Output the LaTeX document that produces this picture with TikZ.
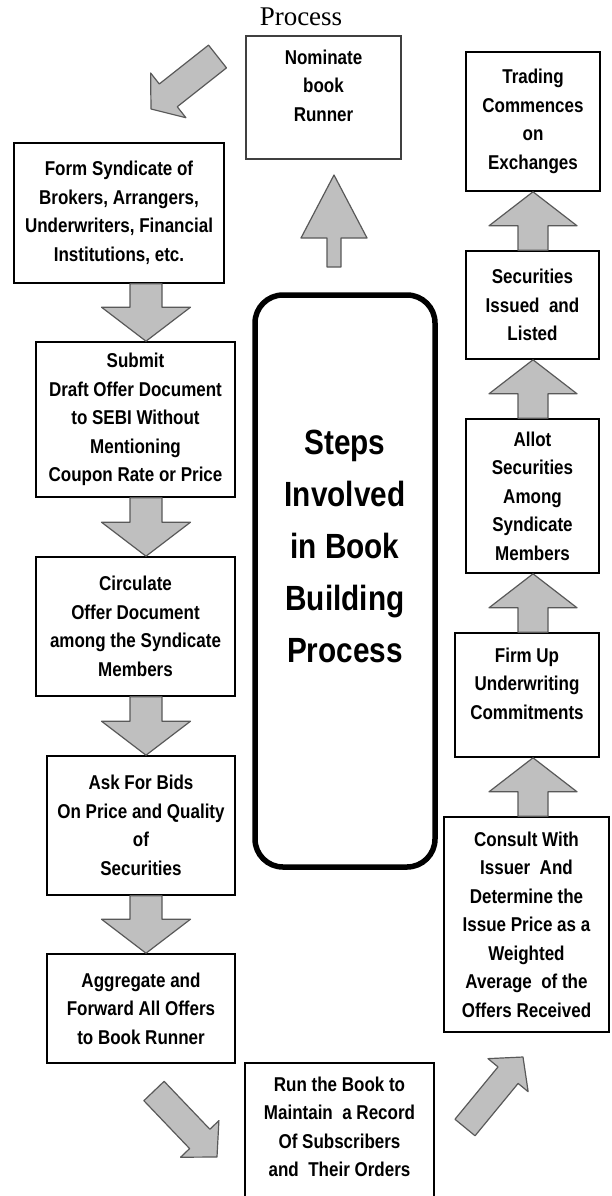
\documentclass[tikz,border=0pt]{standalone}
\usepackage{fontspec}
\usepackage{tikz}
\usetikzlibrary{calc}
\newfontfamily\boxfont{Liberation Sans}[FakeStretch=0.85]
\newfontfamily\titlefont{Liberation Serif}

\tikzset{
  stepbox/.style={draw=black, line width=1.6pt, fill=white, align=center, inner sep=2pt,
    font=\boxfont\bfseries\fontsize{20}{28.5}\selectfont},
  fatarrow/.style={draw=black!65, line width=1.2pt, fill=black!25, line join=round}
}

% block arrow: tail, tip, half shaft width, half head width, head length
\newcommand\fatarrow[5]{%
  \coordinate (hb) at ($(#2)!#5!(#1)$);
  \filldraw[fatarrow] ($(#1)!#3!90:(#2)$) -- ($(hb)!#3!90:(#2)$) -- ($(hb)!#4!90:(#2)$)
    -- (#2) -- ($(hb)!#4!-90:(#2)$) -- ($(hb)!#3!-90:(#2)$) -- ($(#1)!#3!-90:(#2)$) -- cycle;
}

\begin{document}
\begin{tikzpicture}[x=1pt,y=-1pt]
  \useasboundingbox (0,0) rectangle (611,1196);
  \clip (0,0) rectangle (611,1196);

  \node[font=\titlefont\fontsize{27}{30}\selectfont] (title) at (301,17) {Process};

  % left column
  \node[stepbox, minimum width=210, minimum height=140] (form) at (119,213)
    {Form Syndicate of\\Brokers, Arrangers,\\Underwriters, Financial\\Institutions, etc.};
  \node[stepbox, minimum width=199, minimum height=155] (submit) at (135.5,419.5)
    {Submit\\Draft Offer Document\\to SEBI Without\\Mentioning\\Coupon Rate or Price};
  \node[stepbox, minimum width=199, minimum height=139] (circulate) at (135.5,626.5)
    {Circulate\\Offer Document\\among the Syndicate\\Members};
  \node[stepbox, minimum width=188, minimum height=139] (askbids) at (141,825.5)
    {Ask For Bids\\On Price and Quality\\of\\Securities};
  \node[stepbox, minimum width=188, minimum height=109] (aggregate) at (141,1008.5)
    {Aggregate and\\Forward All Offers\\to Book Runner};

  % middle
  \node[stepbox, draw=black!75, line width=1.2pt, minimum width=155, minimum height=123,
    text depth=24pt] (nominate) at (323.5,97.5) {Nominate\\book\\Runner};
  \node[stepbox, line width=5.5pt, rounded corners=28pt, minimum width=180, minimum height=572,
    text depth=70pt, font=\boxfont\bfseries\fontsize{35}{52}\selectfont]
    (steps) at (345,581) {Steps\\Involved\\in Book\\Building\\Process};
  \node[stepbox, anchor=north, minimum width=189, minimum height=150, text depth=22pt]
    (run) at (339.5,1062)
    {Run the Book to\\Maintain\ \ a Record\\Of Subscribers\\and\ \ Their Orders};

  % right column
  \node[stepbox, minimum width=134, minimum height=139] (trading) at (533,121.5)
    {Trading\\Commences\\on\\Exchanges};
  \node[stepbox, minimum width=133, minimum height=108] (securities) at (532.5,305)
    {Securities\\Issued\ \ and\\Listed};
  \node[stepbox, minimum width=133, minimum height=154] (allot) at (532.5,496)
    {Allot\\Securities\\Among\\Syndicate\\Members};
  \node[stepbox, minimum width=144, minimum height=124, text depth=23pt] (firm) at (527,695)
    {Firm Up\\Underwriting\\Commitments};
  \node[stepbox, minimum width=165, minimum height=215] (consult) at (526.5,924.5)
    {Consult With\\Issuer\ \ And\\Determine the\\Issue Price as a\\Weighted\\Average\ \ of the\\Offers Received};

  % arrows
  \coordinate (ax) at (146,0);
  \coordinate (bx) at (533,0);
  \foreach \a/\b in {form/submit, submit/circulate, circulate/askbids, askbids/aggregate}
    {\fatarrow{\a.south -| ax}{\b.north -| ax}{16pt}{44.5pt}{34pt}}
  \foreach \a/\b in {consult/firm, firm/allot, allot/securities, securities/trading}
    {\fatarrow{\a.north -| bx}{\b.south -| bx}{15pt}{44pt}{34pt}}

  \coordinate (uptail) at (334,267);
  \coordinate (uptip) at (334,175);
  \fatarrow{uptail}{uptip}{7pt}{33pt}{63pt}

  \coordinate (tltail) at (217.5,56.5);
  \coordinate (tltip) at (151,109);
  \fatarrow{tltail}{tltip}{14.5pt}{28.5pt}{22pt}

  \coordinate (bltail) at (154,1091);
  \coordinate (bltip) at (217,1157);
  \fatarrow{bltail}{bltip}{14pt}{26.5pt}{25pt}

  \coordinate (brtail) at (465,1127.5);
  \coordinate (brtip) at (523,1057);
  \fatarrow{brtail}{brtip}{13pt}{26pt}{23.5pt}
\end{tikzpicture}
\end{document}
